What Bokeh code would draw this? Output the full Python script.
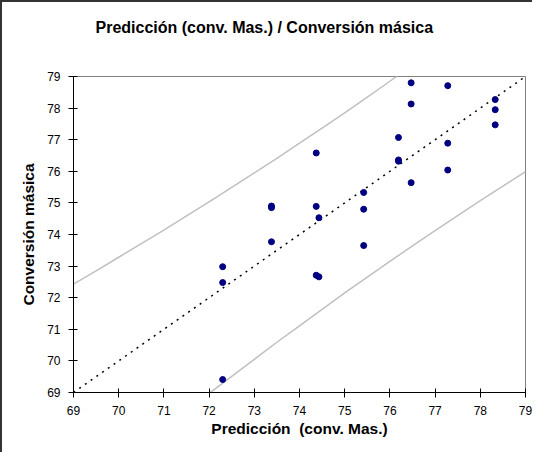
from bokeh.plotting import figure
from bokeh.models import Range1d, FixedTicker, Title
from bokeh.embed import file_html
from bokeh.resources import INLINE

# ---- data ----
title_text = "Predicción (conv. Mas.) / Conversión másica"
x_label = "Predicción\u00a0 (conv. Mas.)"
y_label = "Conversión másica"
ticks = [69, 70, 71, 72, 73, 74, 75, 76, 77, 78, 79]

prediccion = [72.30, 72.30, 72.30, 73.38, 73.38, 73.38, 74.37, 74.37, 74.43,
              74.37, 74.43, 75.42, 75.42, 75.42, 76.19, 76.19, 76.19, 76.47,
              76.47, 76.47, 77.28, 77.28, 77.28, 78.33, 78.33, 78.33]
conversion = [72.98, 72.48, 69.41, 74.90, 74.85, 73.77, 76.58, 74.89, 74.53,
              72.71, 72.66, 75.33, 74.80, 73.65, 77.07, 76.36, 76.32, 78.80,
              78.13, 75.64, 78.71, 76.89, 76.04, 78.27, 77.95, 77.47]

ideal_x = [69, 79]
ideal_y = [69, 79]

upper_x = [69.0, 69.5, 70.0, 70.5, 71.0, 71.5, 72.0, 72.5, 73.0, 73.5, 74.0,
           74.5, 75.0, 75.5, 76.0, 76.3]
upper_y = [72.43, 72.85, 73.28, 73.71, 74.14, 74.59, 75.03, 75.49, 75.95,
           76.41, 76.89, 77.37, 77.85, 78.35, 78.85, 79.16]

lower_x = [72.0, 72.5, 73.0, 73.5, 74.0, 74.5, 75.0, 75.5, 76.0, 76.5, 77.0,
           77.5, 78.0, 78.5, 79.0]
lower_y = [68.97, 69.51, 70.05, 70.59, 71.11, 71.63, 72.15, 72.65, 73.15,
           73.64, 74.12, 74.60, 75.07, 75.53, 75.99]

FONT = "Liberation Sans"

p = figure(width=532, height=452, output_backend="svg", toolbar_location=None,
           title_location=None,
           x_range=Range1d(ticks[0], ticks[-1]), y_range=Range1d(ticks[0], ticks[-1]),
           min_border_left=71, min_border_right=9, min_border_top=74,
           min_border_bottom=62)
p.styles = {"border-top": "2px solid #333333", "border-left": "2px solid #333333"}

p.background_fill_color = "white"
p.border_fill_color = "white"
p.outline_line_color = "#808080"
p.outline_line_width = 1
p.xgrid.visible = False
p.ygrid.visible = False

# spacer between frame and title (closest to the frame), then the title itself
spacer = Title(text=" ", text_font=FONT, text_font_size="10px", standoff=28)
p.add_layout(spacer, "above")
main_title = Title(text=title_text, text_font=FONT, text_font_size="16px",
                   text_font_style="bold", text_color="black", align="left",
                   offset=22, standoff=0)
p.add_layout(main_title, "above")

for ax in (p.xaxis[0], p.yaxis[0]):
    ax.ticker = FixedTicker(ticks=ticks)
    ax.minor_tick_line_color = None
    ax.major_tick_in = 4
    ax.major_tick_out = 5
    ax.axis_line_color = "black"
    ax.major_tick_line_color = "black"
    ax.major_label_text_font = FONT
    ax.major_label_text_font_size = "12px"
    ax.major_label_text_color = "black"
    ax.axis_label_text_font = FONT
    ax.axis_label_text_font_size = "15.5px"
    ax.axis_label_text_font_style = "bold"
    ax.axis_label_text_color = "black"

p.xaxis.axis_label = x_label
p.yaxis.axis_label = y_label
p.xaxis.major_label_standoff = 8
p.yaxis.major_label_standoff = 8
p.xaxis.axis_label_standoff = 2
p.yaxis.axis_label_standoff = 7

# prediction band lines
p.line(upper_x, upper_y, line_color="#c0c0c0", line_width=1.5)
p.line(lower_x, lower_y, line_color="#c0c0c0", line_width=1.5)
# ideal line
p.line(ideal_x, ideal_y, line_color="black", line_width=1.5, line_dash="2 5")
# points
p.scatter(prediccion, conversion, size=6, fill_color="#000080", line_color="#000080")

open("out.html", "w").write(file_html(p, INLINE))
